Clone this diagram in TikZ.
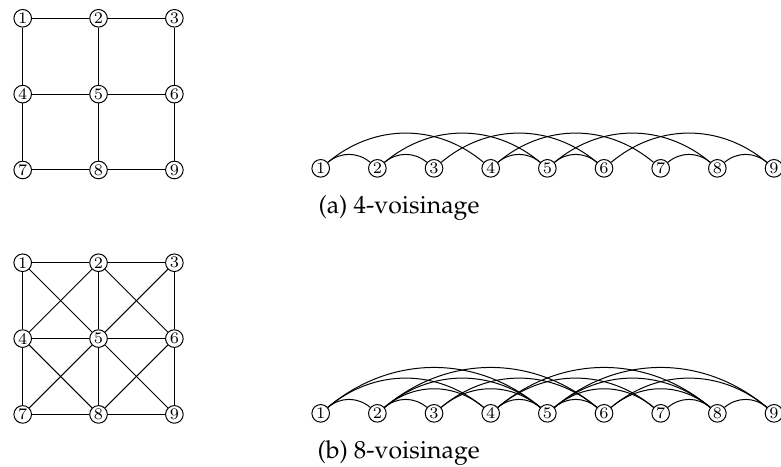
\documentclass[tikz,border=0pt]{standalone}
\usepackage{amsmath}
\usepackage[T1,TU]{fontenc}
\usepackage{tikz}
\usetikzlibrary{automata, positioning}

\tikzset{every state/.style={minimum size=7.1pt, inner sep=0pt, font=\fontsize{6.5}{7}\selectfont}}
\newcommand{\capfont}{\fontencoding{T1}\fontfamily{ppl}\fontsize{10}{12}\selectfont}

\begin{document}
\begin{tikzpicture}[node distance=1.074cm,on grid]
	\useasboundingbox (0,0) rectangle (11.061,-6.600);
	
	% 4-voisinage, grille
	\node (p1) [state] at (0.3215,-0.259) {1};
	\node (p2) [state, right of = p1] {2};
	\node (p3) [state, right of = p2] {3};
	\node (p4) [state, below of = p1] {4};
	\node (p5) [state, right of = p4] {5};
	\node (p6) [state, right of = p5] {6};
	\node (p7) [state, below of = p4] {7};
	\node (p8) [state, right of = p7] {8};
	\node (p9) [state, right of = p8] {9};
	
	\path
	(p1) edge (p2)
	(p2) edge (p3)
	(p4) edge (p5)
	(p5) edge (p6)
	(p7) edge (p8)
	(p8) edge (p9)
	(p1) edge (p4)
	(p4) edge (p7)
	(p2) edge (p5)
	(p5) edge (p8)
	(p3) edge (p6)
	(p6) edge (p9);
	
	% 8-voisinage, grille
	\node (r1) [state] at (0.3215,-3.721) {1};
	\node (r2) [state, right of = r1] {2};
	\node (r3) [state, right of = r2] {3};
	\node (r4) [state, below of = r1] {4};
	\node (r5) [state, right of = r4] {5};
	\node (r6) [state, right of = r5] {6};
	\node (r7) [state, below of = r4] {7};
	\node (r8) [state, right of = r7] {8};
	\node (r9) [state, right of = r8] {9};
	
	\path
	(r1) edge (r2)
	(r2) edge (r3)
	(r4) edge (r5)
	(r5) edge (r6)
	(r7) edge (r8)
	(r8) edge (r9)
	(r1) edge (r4)
	(r4) edge (r7)
	(r2) edge (r5)
	(r5) edge (r8)
	(r3) edge (r6)
	(r6) edge (r9)
	(r1) edge (r5)
	(r5) edge (r9)
	(r3) edge (r5)
	(r5) edge (r7)
	(r2) edge (r4)
	(r2) edge (r6)
	(r4) edge (r8)
	(r6) edge (r8);
	
	\begin{scope}[node distance=0.8025cm]
	% 4-voisinage, en ligne
	\node (q1) [state] at (4.542,-2.384) {1};
	\node (q2) [state, right of = q1] {2};
	\node (q3) [state, right of = q2] {3};
	\node (q4) [state, right of = q3] {4};
	\node (q5) [state, right of = q4] {5};
	\node (q6) [state, right of = q5] {6};
	\node (q7) [state, right of = q6] {7};
	\node (q8) [state, right of = q7] {8};
	\node (q9) [state, right of = q8] {9};
	
	\path [bend left=40]
	(q1) edge (q2)
	(q2) edge (q3)
	(q4) edge (q5)
	(q5) edge (q6)
	(q7) edge (q8)
	(q8) edge (q9)
	(q1) edge (q4)
	(q2) edge (q5)
	(q3) edge (q6)
	(q4) edge (q7)
	(q5) edge (q8)
	(q6) edge (q9);
	
	% 8-voisinage, en ligne
	\node (t1) [state] at (4.542,-5.854) {1};
	\node (t2) [state, right of = t1] {2};
	\node (t3) [state, right of = t2] {3};
	\node (t4) [state, right of = t3] {4};
	\node (t5) [state, right of = t4] {5};
	\node (t6) [state, right of = t5] {6};
	\node (t7) [state, right of = t6] {7};
	\node (t8) [state, right of = t7] {8};
	\node (t9) [state, right of = t8] {9};
	
	\path [bend left=40]
	(t1) edge (t2)
	(t2) edge (t3)
	(t4) edge (t5)
	(t5) edge (t6)
	(t7) edge (t8)
	(t8) edge (t9)
	(t1) edge (t4)
	(t2) edge (t5)
	(t3) edge (t6)
	(t4) edge (t7)
	(t5) edge (t8)
	(t6) edge (t9)
	(t1) edge (t5)
	(t5) edge (t9)
	(t2) edge (t6)
	(t4) edge (t8)
	(t2) edge (t4)
	(t3) edge (t5)
	(t5) edge (t7)
	(t6) edge (t8);
	\end{scope}
	
	\node (capa) [anchor=west, inner sep=0pt, font=\capfont] at (4.504,-2.946) {(a) 4-voisinage};
	\node (capb) [anchor=west, inner sep=0pt, font=\capfont] at (4.490,-6.409) {(b) 8-voisinage};
\end{tikzpicture}
\end{document}
